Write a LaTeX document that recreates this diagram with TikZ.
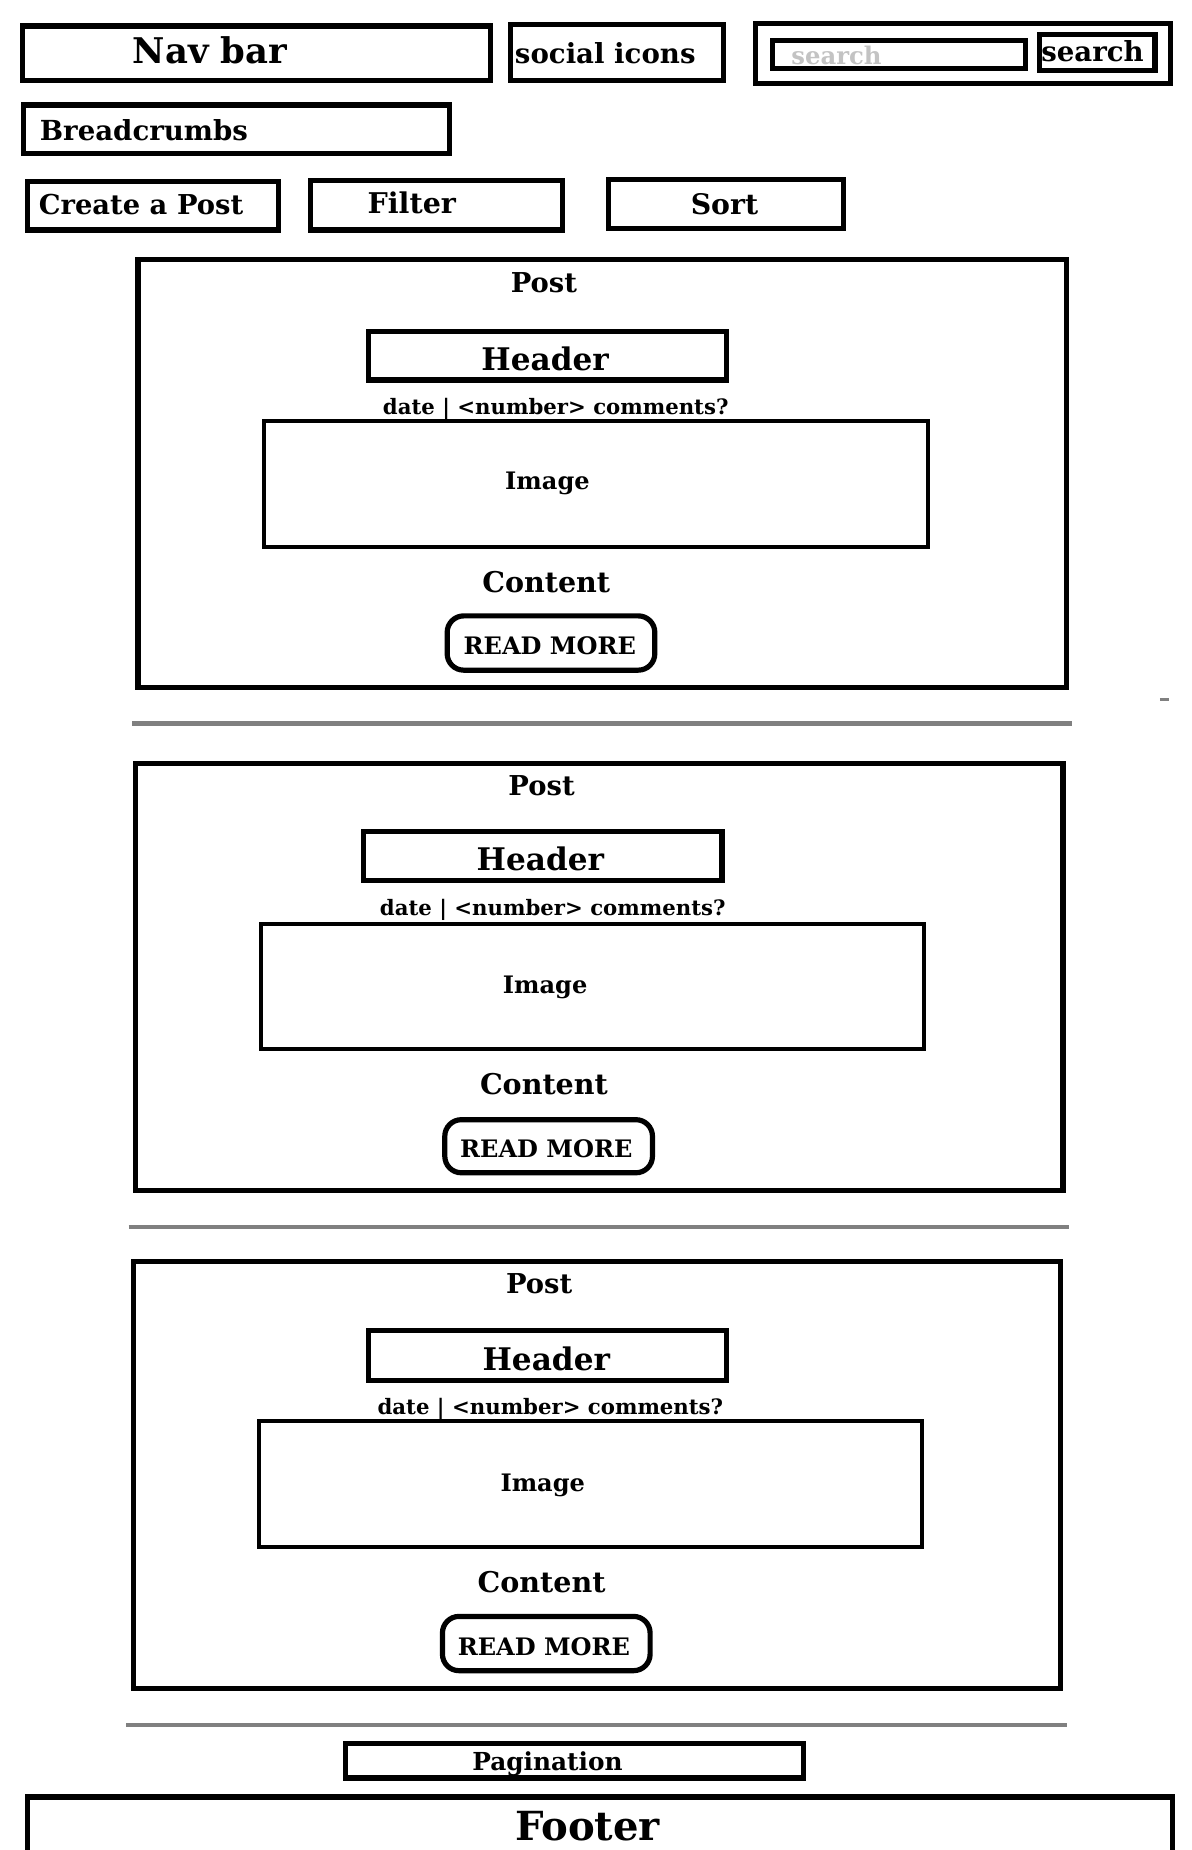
\documentclass[tikz,border=0pt]{standalone}
\usepackage{fontspec}
\setmainfont{DejaVu Serif}
\usepackage{tikz}
\definecolor{rulegray}{RGB}{128,128,128}
\definecolor{hintgray}{RGB}{195,195,195}
\newcommand{\fsz}[1]{\bfseries\fontsize{#1}{#1}\selectfont}
\tikzstyle{box}=[shape=rectangle,draw,line width=2.2pt,inner sep=0pt]
\tikzstyle{pic}=[shape=rectangle,draw,line width=1.7pt,inner sep=0pt]
\tikzstyle{btn}=[shape=rectangle,draw,line width=2.2pt,rounded corners=7pt,inner sep=0pt]
\tikzstyle{lbl}=[inner sep=0pt,text height=0.6em,text depth=0pt,yshift=-1.5pt]
\tikzstyle{rule}=[line width=2pt,color=rulegray]

\begin{document}
\begin{tikzpicture}[x=0.5pt,y=-0.5pt]
            \useasboundingbox (0,0) rectangle (1010,1568);
            % top bar
            \node[box,minimum width=198.5pt,minimum height=23pt] (nav) at (217.5,45) {};
            \node[lbl,font=\fsz{15}] (navtext) at (178,45) {Nav bar};
            \node[box,minimum width=90pt,minimum height=23.5pt] (social) at (523,44.5) {};
            \node[lbl,font=\fsz{11.7}] (socialtext) at (513,45) {social icons};
            \node[box,minimum width=176pt,minimum height=25.5pt] (searchbar) at (816,45.5) {};
            \node[box,minimum width=107pt,minimum height=12pt] (searchfield) at (762,46) {};
            \node[lbl,font=\fsz{10.3}] (searchhint) at (709,46) [text=hintgray] {search};
            \node[box,minimum width=49pt,minimum height=15.5pt] (searchbtn) at (930,44.5) {};
            \node[lbl,font=\fsz{11.7}] (searchtext) at (926,43) {search};
            \node[box,minimum width=180.5pt,minimum height=20.5pt] (crumbs) at (200.5,109.5) {};
            \node[lbl,font=\fsz{11.7}] (crumbstext) at (122,110) {Breadcrumbs};
            \node[box,minimum width=106.5pt,minimum height=20.5pt] (create) at (129.5,174.5) {};
            \node[lbl,font=\fsz{11.6}] (createtext) at (119.5,173) {Create a Post};
            \node[box,minimum width=107pt,minimum height=21pt] (filter) at (370,174) {};
            \node[lbl,font=\fsz{12.1}] (filtertext) at (349,172) {Filter};
            \node[box,minimum width=99.5pt,minimum height=21pt] (sort) at (615.5,173) {};
            \node[lbl,font=\fsz{12}] (sorttext) at (614,173) {Sort};
            % post 1
            \node[box,minimum width=393.5pt,minimum height=181.5pt] (postA) at (510.5,401.5) {};
            \node[lbl,font=\fsz{11.6}] (postAtext) at (461,239) {Post};
            \node[box,minimum width=152pt,minimum height=20.5pt] (headA) at (464,301.5) {};
            \node[lbl,font=\fsz{13.2}] (headAtext) at (462,305) {Header};
            \node[lbl,font=\fsz{9}] (metaA) at (471,342) {date | <number> comments?};
            \node[pic,minimum width=281.5pt,minimum height=53.5pt] (imgA) at (505,410) {};
            \node[lbl,font=\fsz{10.2}] (imgAtext) at (464,406) {Image};
            \node[lbl,font=\fsz{12.1}] (bodyA) at (463,493) {Content};
            \node[btn,minimum width=88pt,minimum height=23pt] (moreA) at (467,545) {};
            \node[lbl,font=\fsz{10.2}] (moreAtext) at (466,546) {READ MORE};
            \draw[rule] (112,613) -- (909,613);
            \draw[rule,line width=1.4pt] (983,593) -- (991,593);
            % post 2
            \node[box,minimum width=393pt,minimum height=181pt] (postB) at (508,828) {};
            \node[lbl,font=\fsz{11.6}] (postBtext) at (459,665) {Post};
            \node[box,minimum width=152pt,minimum height=20.5pt] (headB) at (460,725.5) {};
            \node[lbl,font=\fsz{13.2}] (headBtext) at (458,729) {Header};
            \node[lbl,font=\fsz{9}] (metaB) at (468.5,767) {date | <number> comments?};
            \node[pic,minimum width=281pt,minimum height=53pt] (imgB) at (502.5,836.5) {};
            \node[lbl,font=\fsz{10.2}] (imgBtext) at (462,833) {Image};
            \node[lbl,font=\fsz{12.1}] (bodyB) at (461,919) {Content};
            \node[btn,minimum width=88pt,minimum height=22.5pt] (moreB) at (465,971.5) {};
            \node[lbl,font=\fsz{10.2}] (moreBtext) at (463,972) {READ MORE};
            \draw[rule] (109,1040) -- (906,1040);
            % post 3
            \node[box,minimum width=393pt,minimum height=181pt] (postC) at (506,1250) {};
            \node[lbl,font=\fsz{11.6}] (postCtext) at (457,1087) {Post};
            \node[box,minimum width=152pt,minimum height=21pt] (headC) at (464,1149) {};
            \node[lbl,font=\fsz{13.2}] (headCtext) at (463,1153) {Header};
            \node[lbl,font=\fsz{9}] (metaC) at (466.5,1190) {date | <number> comments?};
            \node[pic,minimum width=281pt,minimum height=53.5pt] (imgC) at (500.5,1258) {};
            \node[lbl,font=\fsz{10.2}] (imgCtext) at (460,1255) {Image};
            \node[lbl,font=\fsz{12.1}] (bodyC) at (459,1341) {Content};
            \node[btn,minimum width=88pt,minimum height=23pt] (moreC) at (463,1393) {};
            \node[lbl,font=\fsz{10.2}] (moreCtext) at (461,1394) {READ MORE};
            \draw[rule] (107,1462) -- (904,1462);
            % bottom
            \node[box,minimum width=194pt,minimum height=14.5pt] (pages) at (487,1492.5) {};
            \node[lbl,font=\fsz{10.5}] (pagestext) at (464,1492) {Pagination};
            \node[box,minimum width=485.5pt,minimum height=38.5pt] (footer) at (508.5,1561.5) {};
            \node[lbl,font=\fsz{17}] (footertext) at (498,1551) {Footer};
\end{tikzpicture}
\end{document}
